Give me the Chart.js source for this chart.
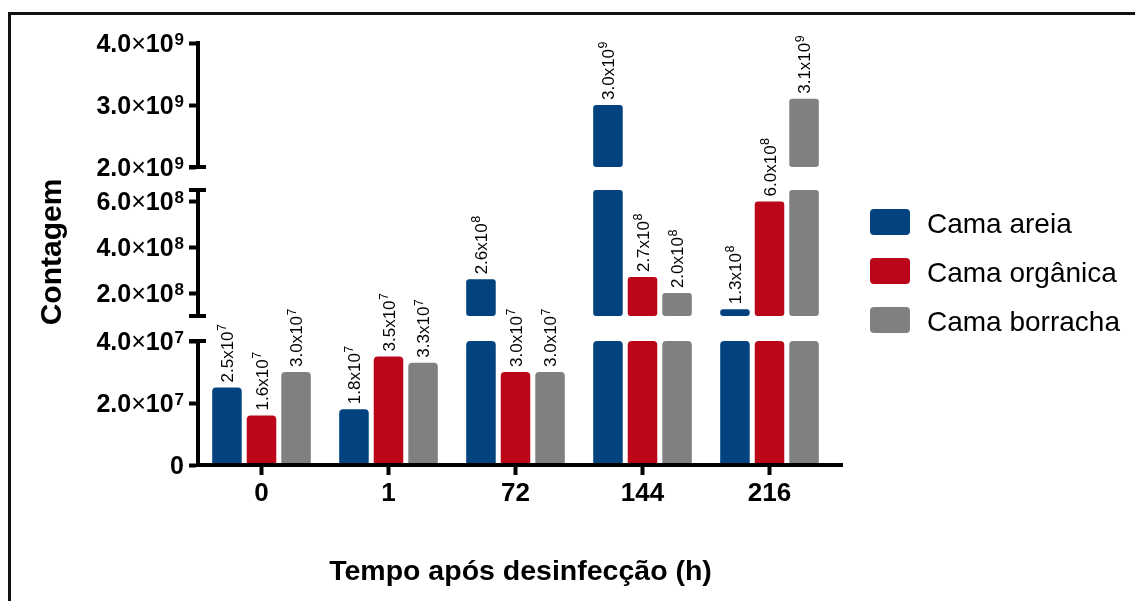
<!DOCTYPE html>
<html lang="pt">
<head>
<meta charset="utf-8">
<title>Contagem por tipo de cama</title>
<script src="https://cdn.jsdelivr.net/npm/chart.js@4.4.1/dist/chart.umd.min.js"></script>
<style>
  html, body { margin: 0; padding: 0; background: #ffffff; }
  canvas { display: block; }
</style>
</head>
<body>
<canvas id="chart" width="1135" height="601"></canvas>
<script>
// ---- data ----
const categories = ['0', '1', '72', '144', '216'];
const camaAreia = [2.5e7, 1.8e7, 2.6e8, 3.0e9, 1.3e8];
const camaOrganica = [1.6e7, 3.5e7, 3.0e7, 2.7e8, 6.0e8];
const camaBorracha = [3.0e7, 3.3e7, 3.0e7, 2.0e8, 3.1e9];

const seriesLabels = ['Cama areia', 'Cama orgânica', 'Cama borracha'];
const seriesColors = ['#01427F', '#BB0619', '#808080'];

// broken y axis: three value ranges and their tick values
const rangeBottom = [0, 4e7];
const rangeMiddle = [1e8, 6.5e8];
const rangeTop = [2e9, 4e9];
const ticksBottom = [0, 2e7, 4e7];
const ticksMiddle = [2e8, 4e8, 6e8];
const ticksTop = [2e9, 3e9, 4e9];

const yTitle = 'Contagem';
const xTitle = 'Tempo após desinfecção (h)';

const FONT = '"Liberation Sans", Arial, Helvetica, sans-serif';

// ---- build datasets: each series is split into one floating bar piece per axis segment ----
const segments = [
  { id: 'yTop', range: rangeTop, ticks: ticksTop, size: 124, order: 5 },
  { id: 'yMid', range: rangeMiddle, ticks: ticksMiddle, size: 126, order: 3 },
  { id: 'yBot', range: rangeBottom, ticks: ticksBottom, size: 124, order: 1 }
];
const series = [
  { label: seriesLabels[0], values: camaAreia, color: seriesColors[0] },
  { label: seriesLabels[1], values: camaOrganica, color: seriesColors[1] },
  { label: seriesLabels[2], values: camaBorracha, color: seriesColors[2] }
];

function pieceData(values, range) {
  return values.map(v => (v > range[0] ? [range[0], Math.min(v, range[1])] : null));
}

const datasets = [];
series.forEach((s, si) => {
  segments.forEach(seg => {
    datasets.push({
      label: s.label,
      data: pieceData(s.values, seg.range),
      xAxisID: 'x',
      yAxisID: seg.id,
      stack: 'serie' + si,
      backgroundColor: s.color,
      borderWidth: 0,
      borderSkipped: false,
      borderRadius: seg.id === 'yBot'
        ? { topLeft: 4, topRight: 4, bottomLeft: 0, bottomRight: 0 }
        : 3,
      categoryPercentage: 0.816,
      barPercentage: 0.855
    });
  });
});

function valueAxis(seg) {
  return {
    type: 'linear',
    position: 'left',
    stack: 'y',
    stackWeight: seg.size,
    weight: seg.order,
    min: seg.range[0],
    max: seg.range[1],
    stacked: false,
    beginAtZero: false,
    grid: { display: true, drawOnChartArea: false, drawTicks: true, tickLength: 9, tickWidth: 4, tickColor: '#000' },
    border: { display: true, width: 4, color: '#000' },
    ticks: { display: false },
    afterBuildTicks(scale) { scale.ticks = seg.ticks.map(v => ({ value: v })); },
    afterFit(scale) { scale.width = 198; }
  };
}
function breakAxis(size, order) {
  return {
    type: 'linear',
    position: 'left',
    stack: 'y',
    stackWeight: size,
    weight: order,
    min: 0, max: 1,
    grid: { display: false },
    border: { display: false },
    ticks: { display: false },
    afterFit(scale) { scale.width = 198; }
  };
}

// ---- number formatting: mantissa and power of ten ----
function sciParts(v) {
  const e = Math.floor(Math.log10(v) + 1e-9);
  return { m: (v / Math.pow(10, e)).toFixed(1), e: String(e) };
}

function drawTickLabel(ctx, v, xRight, y) {
  const big = 25, small = 17;
  const base = y + 9;
  ctx.fillStyle = '#000';
  ctx.textBaseline = 'alphabetic';
  if (v === 0) {
    ctx.font = `bold ${big}px ${FONT}`;
    ctx.textAlign = 'right';
    ctx.fillText('0', xRight, base);
    return;
  }
  const { m, e } = sciParts(v);
  const parts = [
    { t: m, f: `bold ${big}px ${FONT}`, dy: 0, gap: 0 },
    { t: '\u00D7', f: `${big}px ${FONT}`, dy: 0, gap: 0 },
    { t: '10', f: `bold ${big}px ${FONT}`, dy: 0, gap: 1 },
    { t: e, f: `bold ${small}px ${FONT}`, dy: -7, gap: 0 }
  ];
  let total = 0;
  parts.forEach(p => { ctx.font = p.f; p.w = ctx.measureText(p.t).width; total += p.w + p.gap; });
  let x = xRight - total;
  ctx.textAlign = 'left';
  parts.forEach(p => { ctx.font = p.f; ctx.fillText(p.t, x, base + p.dy); x += p.w + p.gap; });
}

function drawBarLabel(ctx, v, x, yTopPx) {
  const { m, e } = sciParts(v);
  ctx.save();
  ctx.translate(x, yTopPx - 5);
  ctx.rotate(-Math.PI / 2);
  ctx.fillStyle = '#000';
  ctx.textAlign = 'left';
  ctx.textBaseline = 'alphabetic';
  ctx.font = `17px ${FONT}`;
  const main = m + 'x10';
  ctx.fillText(main, 0, 6);
  const w = ctx.measureText(main).width;
  ctx.font = `12.5px ${FONT}`;
  ctx.fillText(e, w + 0.5, -0.5);
  ctx.restore();
}

// ---- drawing of axes details, labels, legend and frame ----
const decorPlugin = {
  id: 'decor',
  beforeDraw(chart) {
    const ctx = chart.ctx;
    ctx.save();
    ctx.fillStyle = '#fff';
    ctx.fillRect(0, 0, chart.width, chart.height);
    ctx.strokeStyle = '#111';
    ctx.lineWidth = 3;
    ctx.beginPath();
    ctx.moveTo(8, 13.5); ctx.lineTo(chart.width, 13.5);
    ctx.moveTo(9.5, 12); ctx.lineTo(9.5, chart.height);
    ctx.stroke();
    ctx.restore();
  },
  afterDraw(chart) {
    const ctx = chart.ctx;
    const area = chart.chartArea;
    const axisX = area.left;
    ctx.save();

    // x axis line, running a little past the last group
    ctx.strokeStyle = '#000';
    ctx.lineWidth = 4;
    ctx.beginPath();
    ctx.moveTo(axisX - 2, area.bottom);
    ctx.lineTo(area.right + 10, area.bottom);
    ctx.stroke();

    // caps at the axis breaks
    const yTop = chart.scales.yTop, yMid = chart.scales.yMid, yBot = chart.scales.yBot;
    [yTop.bottom, yMid.top, yMid.bottom, yBot.top].forEach(py => {
      ctx.beginPath();
      ctx.moveTo(axisX - 9, py);
      ctx.lineTo(axisX + 8, py);
      ctx.stroke();
    });

    // y tick labels
    segments.forEach(seg => {
      const sc = chart.scales[seg.id];
      seg.ticks.forEach(v => drawTickLabel(ctx, v, 184, sc.getPixelForValue(v)));
    });

    // value labels above bars, placed on the segment holding the value
    series.forEach((s, si) => {
      s.values.forEach((v, j) => {
        let segIndex = segments.findIndex(seg => v > seg.range[0] && v <= seg.range[1]);
        if (segIndex < 0) segIndex = segments.length - 1;
        const seg = segments[segIndex];
        const bar = chart.getDatasetMeta(si * segments.length + segIndex).data[j];
        drawBarLabel(ctx, v, bar.x, chart.scales[seg.id].getPixelForValue(v));
      });
    });

    // legend
    series.forEach((s, i) => {
      const top = 209 + 49 * i;
      ctx.fillStyle = s.color;
      ctx.beginPath();
      ctx.roundRect(870, top, 40, 26, 4);
      ctx.fill();
      ctx.fillStyle = '#000';
      ctx.font = `28px ${FONT}`;
      ctx.textAlign = 'left';
      ctx.textBaseline = 'alphabetic';
      ctx.fillText(s.label, 927, top + 24);
    });

    // axis titles
    ctx.fillStyle = '#000';
    ctx.font = `bold 28.5px ${FONT}`;
    ctx.textAlign = 'center';
    ctx.textBaseline = 'alphabetic';
    ctx.fillText(xTitle, (area.left + area.right + 10) / 2, 580);

    ctx.translate(61, 252);
    ctx.rotate(-Math.PI / 2);
    ctx.font = `bold 30px ${FONT}`;
    ctx.fillText(yTitle, 0, 0);
    ctx.restore();
  }
};

new Chart(document.getElementById('chart'), {
  type: 'bar',
  data: { labels: categories, datasets },
  options: {
    responsive: false,
    animation: false,
    devicePixelRatio: 1,
    layout: { padding: { left: 0, top: 43, right: 302, bottom: 0 } },
    plugins: { legend: { display: false }, tooltip: { enabled: false } },
    scales: {
      x: {
        type: 'category',
        position: 'bottom',
        offset: true,
        grid: { display: true, drawOnChartArea: false, drawTicks: true, tickLength: 10, tickWidth: 4, tickColor: '#000', offset: false },
        border: { display: false },
        ticks: { color: '#000', font: { family: FONT, size: 26, weight: 'bold' }, padding: 3, maxRotation: 0, autoSkip: false },
        afterFit(scale) { scale.height = 136; }
      },
      yTop: valueAxis(segments[0]),
      breakA: breakAxis(23, 4),
      yMid: valueAxis(segments[1]),
      breakB: breakAxis(25, 2),
      yBot: valueAxis(segments[2])
    }
  },
  plugins: [decorPlugin]
});
</script>
</body>
</html>
